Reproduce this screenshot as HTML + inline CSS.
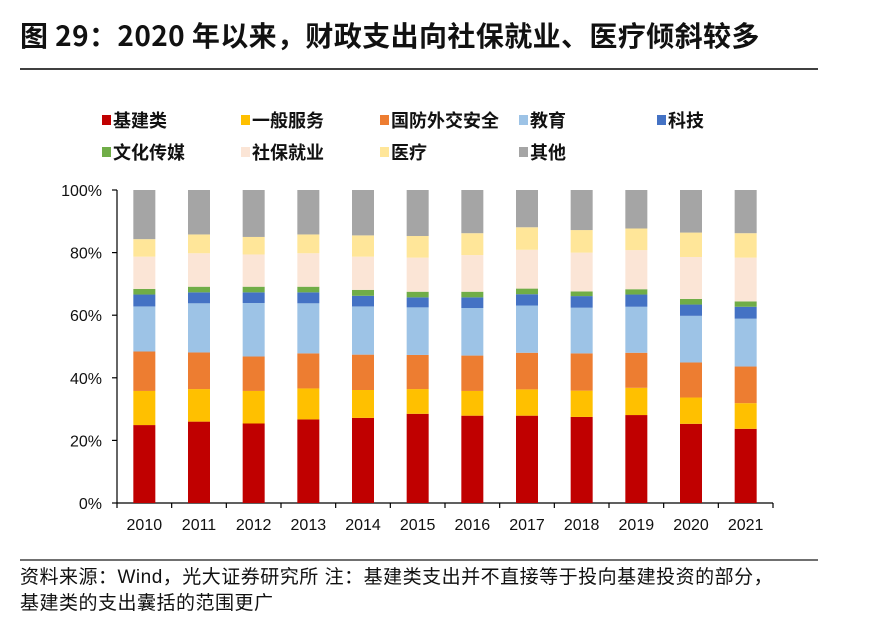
<!DOCTYPE html>
<html><head><meta charset="utf-8"><style>
body{margin:0;width:881px;height:629px;background:#fff;font-family:"Liberation Sans","Noto Sans CJK SC",sans-serif;overflow:hidden}
</style></head><body>
<svg width="881" height="629" xmlns="http://www.w3.org/2000/svg">
<text x="20" y="46" font-size="28" letter-spacing="0.4" font-weight="bold" fill="#111" font-family="Noto Sans CJK SC, sans-serif">图 29：2020 年以来，财政支出向社保就业、医疗倾斜较多</text>
<line x1="20" y1="69" x2="818" y2="69" stroke="#404040" stroke-width="2"/>
<g id="legend"></g>
<g id="axes"></g>
<g id="bars"></g>
<line x1="20" y1="560" x2="818" y2="560" stroke="#404040" stroke-width="1.5"/>
<text x="20" y="583" font-size="19" letter-spacing="0.5" fill="#111" font-family="Liberation Sans, Noto Sans CJK SC, sans-serif">资料来源：Wind，光大证券研究所  注：基建类支出并不直接等于投向基建投资的部分，</text>
<text x="20" y="609" font-size="19" letter-spacing="0.5" fill="#111" font-family="Liberation Sans, Noto Sans CJK SC, sans-serif">基建类的支出囊括的范围更广</text>
</svg>
<script>
const years=["2010","2011","2012","2013","2014","2015","2016","2017","2018","2019","2020","2021"];
const seriesNames=["基建类","一般服务","国防外交安全","教育","科技","文化传媒","社保就业","医疗","其他"];
const seriesColors=["#c00000","#ffc000","#ed7d31","#9dc3e6","#4472c4","#70ad47","#fbe5d6","#ffe699","#a5a5a5"];
const infra=[24.9,26.0,25.4,26.7,27.2,28.5,27.9,27.9,27.5,28.1,25.3,23.7];
const general=[10.9,10.4,10.4,9.9,8.9,7.9,7.9,8.4,8.4,8.7,8.4,8.2];
const defense=[12.6,11.7,11.0,11.2,11.3,10.9,11.3,11.7,11.9,11.2,11.2,11.7];
const education=[14.4,15.7,17.1,16.0,15.4,15.2,15.2,15.1,14.6,14.7,14.9,15.3];
const tech=[3.8,3.5,3.4,3.5,3.4,3.2,3.4,3.6,3.7,3.9,3.6,3.8];
const culture=[1.8,1.8,1.8,1.8,1.9,1.8,1.8,1.8,1.5,1.7,1.8,1.7];
const social=[10.3,10.7,10.3,10.7,10.6,10.9,11.7,12.4,12.4,12.5,13.4,14.0];
const medical=[5.6,6.0,5.6,6.0,6.8,6.9,7.0,7.2,7.2,6.9,7.8,7.8];
const other=[15.7,14.2,15.0,14.2,14.5,14.7,13.8,11.9,12.8,12.3,13.6,13.8];
const yTicks=["0%","20%","40%","60%","80%","100%"];
const series=[infra,general,defense,education,tech,culture,social,medical,other];
const NS="http://www.w3.org/2000/svg";
const X0=117,X1=773,Y0=503,Y1=190;
const catW=(X1-X0)/years.length, barW=22;
const y=v=>Y0-(v/100)*(Y0-Y1);
const xc=i=>X0+catW*(i+0.5);
function mk(tag,attrs,parent){const e=document.createElementNS(NS,tag);for(const k in attrs)e.setAttribute(k,attrs[k]);parent.appendChild(e);return e;}
const axes=document.getElementById('axes'),bars=document.getElementById('bars'),legend=document.getElementById('legend');
let l=mk('line',{x1:X0,y1:Y1,x2:X0,y2:Y0,stroke:'#000','stroke-width':1.2},axes);


l=mk('line',{x1:X0,y1:Y0,x2:X1,y2:Y0,stroke:'#000','stroke-width':1.2},axes);


yTicks.forEach((t,i)=>{const v=parseFloat(t);const yy=y(v);
 const tk=mk('line',{x1:X0-5,y1:yy,x2:X0,y2:yy,stroke:'#000','stroke-width':1.2},axes);
 
 
 const tx=mk('text',{x:X0-15,y:yy+6,'text-anchor':'end','font-size':16,fill:'#111'},axes);tx.textContent=t;
 
 
});
for(let i=0;i<=years.length;i++){const xx=X0+catW*i;
 const tk=mk('line',{x1:xx,y1:Y0,x2:xx,y2:Y0+5,stroke:'#000','stroke-width':1.2},axes);
 
 
}
years.forEach((yr,i)=>{const tx=mk('text',{x:xc(i),y:Y0+27,'text-anchor':'middle','font-size':16,fill:'#111'},axes);tx.textContent=yr;
 
 
});
years.forEach((yr,i)=>{let cum=0;series.forEach((s,k)=>{const v=s[i];
 const r=mk('rect',{x:xc(i)-barW/2,y:y(cum+v),width:barW,height:y(cum)-y(cum+v),fill:seriesColors[k]},bars);
 
 
 cum+=v;});});
const lx=[102,241,380,519,657];
seriesNames.forEach((n,k)=>{const row=k<5?0:1,col=k<5?k:k-5;const yy=row?152:120;
 const sq=mk('rect',{x:lx[col],y:yy-5,width:9,height:10,fill:seriesColors[k]},legend);
 
 
 const tx=mk('text',{x:lx[col]+11,y:yy+7,'font-size':18,'font-weight':'bold',fill:'#111','font-family':'Noto Sans CJK SC, sans-serif'},legend);tx.textContent=n;
 
 
});
</script>
</body></html>
